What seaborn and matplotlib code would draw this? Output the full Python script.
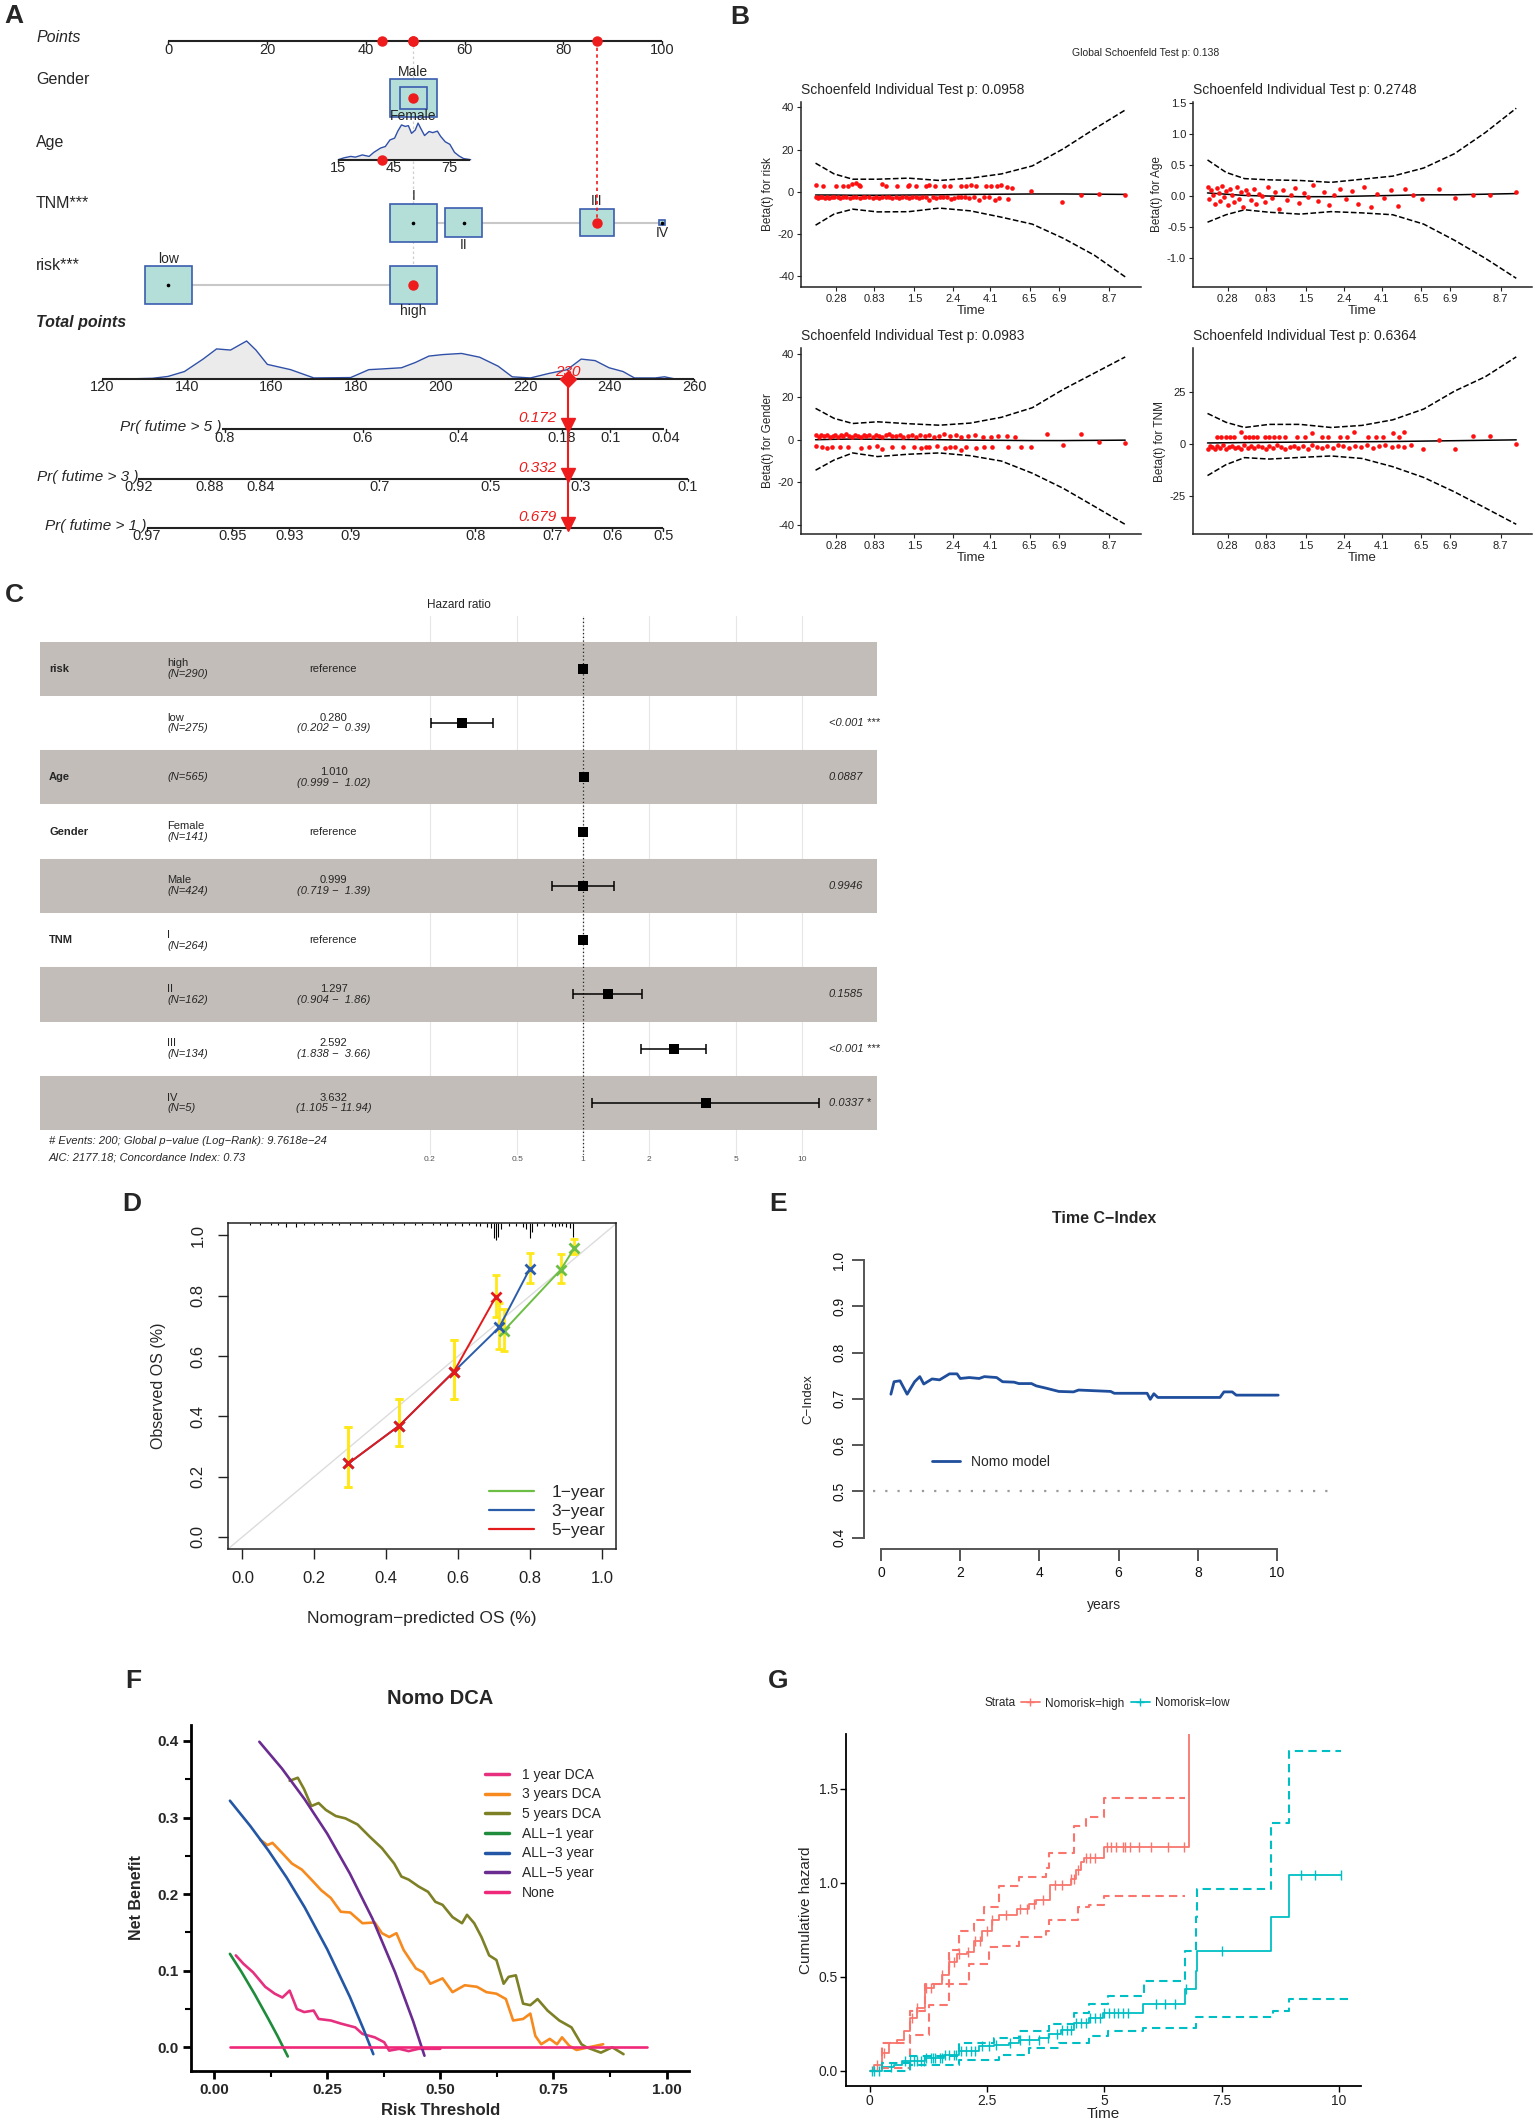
import numpy as np
import pandas as pd
import matplotlib
matplotlib.use("Agg")
import matplotlib.pyplot as plt
from matplotlib.patches import Rectangle
from matplotlib.lines import Line2D
import seaborn as sns

W, H = 1535, 2121

# ========== A. Nomogram data ==========
points_ticks = [0, 20, 40, 60, 80, 100]
gender_levels = ['Male', 'Female']
gender_n = [424, 141]
gender_pts = [49.6, 49.6]
tnm_levels = ['I', 'II', 'III', 'IV']
tnm_n = [264, 162, 134, 5]
tnm_pts = [49.6, 59.8, 86.8, 100.0]
risk_levels = ['low', 'high']
risk_n = [275, 290]
risk_pts = [0.0, 49.6]
sel_gender, sel_tnm, sel_risk = 'Male', 'III', 'high'
age_ticks = [15, 45, 75]
age_range = [15, 86]
age_pts_range = [34.4, 57.0]      # points for age 15 and age 75
age_sel = 38.5
age_dens_x = [15, 18, 21.7, 24.2, 27.9, 31.6, 34.1, 37.8, 40.3, 42.8,
              45.3, 47, 49, 51, 52.7, 54.4, 56.4, 57.9, 59.4, 61.4,
              63.8, 65.8, 68.3, 70, 72.5, 75, 77.5, 80, 82.4, 86.2]
age_dens_y = [0, 0.05, 0.09, 0.07, 0.13, 0.09, 0.2, 0.32, 0.36, 0.54,
              0.59, 0.78, 0.95, 0.91, 0.93, 0.72, 0.81, 1.0, 0.85, 0.66,
              0.77, 0.74, 0.78, 0.64, 0.49, 0.42, 0.2, 0.1, 0.03, 0]
total_ticks = [120, 140, 160, 180, 200, 220, 240, 260]
total_dens_x = [128, 131.8, 135.5, 139.4, 143.8, 147, 150.3, 154.1, 156.3, 159,
                164.5, 170, 178.7, 183, 186.3, 190.7, 194, 197.2, 200.5, 204.9,
                209.2, 213.6, 216.9, 221.2, 225.6, 229.9, 233.2, 236.5, 239.8, 243.1,
                245.8, 250.7, 252.9, 255.1]
total_dens_y = [0, 0.01, 0.06, 0.19, 0.52, 0.79, 0.76, 1.0, 0.76, 0.38,
                0.24, 0.02, 0.03, 0.24, 0.26, 0.29, 0.43, 0.6, 0.64, 0.67,
                0.57, 0.33, 0.05, 0.02, 0.14, 0.24, 0.52, 0.48, 0.29, 0.19,
                0.02, 0.02, 0.05, 0]
total_score = 230
pr_labels = ['Pr( futime > 5 )', 'Pr( futime > 3 )', 'Pr( futime > 1 )']
pr_ticks = [[0.8, 0.6, 0.4, 0.18, 0.1, 0.04],
            [0.92, 0.88, 0.84, 0.7, 0.5, 0.3, 0.1],
            [0.97, 0.95, 0.93, 0.9, 0.8, 0.7, 0.6, 0.5]]
pr_tick_tp = [[148.9, 181.5, 204.1, 228.7, 240.1, 253.2],
              [128.5, 145.4, 157.5, 185.5, 211.7, 233.1, 258.4],
              [130.5, 150.7, 164.2, 178.7, 208.2, 226.4, 240.6, 252.6]]
pr_range_tp = [[148.2, 252.9], [128.5, 258.4], [130.5, 252.6]]
pr_pred = [0.172, 0.332, 0.679]

# ========== B. Schoenfeld residuals ==========
b_xticks = [0.066, 0.189, 0.319, 0.443, 0.564, 0.691, 0.785, 0.949]
b_xticklabels = ['0.28', '0.83', '1.5', '2.4', '4.1', '6.5', '6.9', '8.7']
b_grid = [0, 0.06, 0.12, 0.2, 0.3, 0.4, 0.5, 0.6, 0.7, 0.8, 0.9, 1.0]

risk_u = [0.003, 0.025, 0.066, 0.088, 0.105, 0.118, 0.130, 0.139, 0.144, 0.215,
          0.228, 0.262, 0.299, 0.302, 0.324, 0.358, 0.367, 0.387, 0.414, 0.434,
          0.471, 0.485, 0.502, 0.519, 0.552, 0.566, 0.586, 0.600, 0.617, 0.633,
          0.696,
          0.000, 0.008, 0.014, 0.021, 0.030, 0.037, 0.045, 0.052, 0.060, 0.071,
          0.079, 0.090, 0.098, 0.110, 0.121, 0.130, 0.142, 0.153, 0.161, 0.172,
          0.185, 0.196, 0.205, 0.214, 0.226, 0.238, 0.247, 0.259, 0.268, 0.279,
          0.291, 0.303, 0.312, 0.323, 0.335, 0.344, 0.356, 0.367, 0.378, 0.390,
          0.401, 0.413, 0.424, 0.436, 0.448, 0.459, 0.470, 0.483, 0.497, 0.512,
          0.529, 0.545, 0.560, 0.578, 0.593, 0.622,
          0.797, 0.856, 0.916, 1.000]
risk_y = [3.2, 2.8, 2.6, 3.0, 2.9, 3.6, 4.1, 3.3, 2.7, 3.5,
          2.8, 2.9, 3.0, 3.4, 2.6, 2.9, 3.1, 2.7, 2.9, 3.0,
          2.6, 2.8, 3.1, 2.7, 3.0, 2.9, 2.6, 3.1, 2.4, 2.0,
          0.5,
          -2.4, -2.8, -2.5, -2.2, -2.7, -2.4, -2.9, -2.5, -2.3, -2.6,
          -2.8, -2.4, -2.5, -2.7, -2.3, -2.6, -2.9, -2.4, -2.5, -2.2,
          -2.7, -2.5, -2.8, -2.4, -2.6, -2.3, -2.7, -2.5, -2.9, -2.4,
          -2.6, -2.8, -2.3, -2.5, -2.7, -2.4, -2.6, -3.7, -2.5, -2.8,
          -2.3, -2.6, -2.4, -3.6, -2.7, -2.5, -2.3, -2.6, -2.8, -2.4,
          -3.7, -2.6, -2.5, -3.8, -2.7, -3.6,
          -4.6, -1.4, -0.9, -1.4]
risk_up = [13.6, 8.5, 6.0, 6.0, 6.5, 5.4, 6.5, 8.5, 12.3, 20.4, 29.8, 38.8]
risk_lo = [-15.8, -10.5, -8.2, -9.5, -9.4, -7.7, -9.0, -12, -15.3, -22, -30, -40.3]
risk_mid = [-1.5, -1.5, -1.6, -1.6, -1.5, -1.4, -1.2, -1.1, -1.0, -1.0, -1.1, -1.2]

age_u = [0.000, 0.006, 0.012, 0.018, 0.024, 0.030, 0.036, 0.042, 0.048, 0.055,
         0.061, 0.067, 0.074, 0.080, 0.087, 0.094, 0.101, 0.108, 0.116, 0.124,
         0.132, 0.140, 0.149, 0.158, 0.167, 0.177, 0.187, 0.197, 0.208, 0.219,
         0.231, 0.243, 0.256, 0.269, 0.283, 0.297, 0.312, 0.327, 0.343, 0.359,
         0.376, 0.393, 0.411, 0.429, 0.448, 0.467, 0.487, 0.507, 0.528, 0.549,
         0.571, 0.593, 0.616, 0.640, 0.664, 0.694, 0.749, 0.800, 0.859, 0.914,
         1.000]
age_y = [0.15, -0.05, 0.10, 0.02, -0.12, 0.13, 0.05, -0.08, 0.16, -0.02,
         0.08, -0.15, 0.11, 0.01, -0.10, 0.14, -0.04, 0.06, -0.18, 0.09,
         0.03, -0.07, 0.12, -0.13, 0.04, 0.00, -0.09, 0.15, -0.03, 0.07,
         -0.20, 0.10, -0.06, 0.02, 0.13, -0.11, 0.05, -0.02, 0.17, -0.08,
         0.06, -0.14, 0.01, 0.11, -0.05, 0.08, -0.12, 0.14, -0.18, 0.04,
         -0.03, 0.09, -0.16, 0.12, 0.02, -0.05, 0.12, -0.03, 0.01, 0.02,
         0.07]
age_up = [0.58, 0.38, 0.28, 0.26, 0.25, 0.22, 0.27, 0.32, 0.45, 0.68, 1.02, 1.41]
age_lo = [-0.42, -0.30, -0.22, -0.26, -0.29, -0.25, -0.27, -0.30, -0.45, -0.71, -1.0, -1.32]
age_mid = [0.05, 0.03, 0.01, 0.0, -0.01, -0.01, 0.0, 0.01, 0.02, 0.02, 0.03, 0.04]

gen_u = [0.000, 0.010, 0.019, 0.027, 0.036, 0.046, 0.055, 0.063, 0.072, 0.081,
         0.090, 0.099, 0.108, 0.118, 0.127, 0.136, 0.146, 0.155, 0.164, 0.174,
         0.184, 0.194, 0.205, 0.215, 0.226, 0.237, 0.248, 0.260, 0.272, 0.284,
         0.297, 0.310, 0.324, 0.338, 0.352, 0.367, 0.383, 0.399, 0.416, 0.433,
         0.452, 0.471, 0.492, 0.515, 0.540, 0.566, 0.590, 0.618, 0.645,
         0.000, 0.020, 0.037, 0.054, 0.079, 0.105, 0.147, 0.172, 0.198, 0.215,
         0.248, 0.282, 0.319, 0.341, 0.358, 0.367, 0.392, 0.417, 0.434, 0.451,
         0.471, 0.485, 0.519, 0.544, 0.569, 0.620, 0.662, 0.696,
         0.747, 0.800, 0.856, 0.916, 1.000]
gen_y = [2.2, 1.4, 2.0, 1.7, 2.4, 1.5, 1.9, 2.3, 1.3, 2.1,
         1.6, 2.5, 1.8, 1.4, 2.2, 1.9, 1.5, 2.4, 1.7, 2.0,
         1.3, 2.3, 1.8, 1.5, 2.1, 2.6, 1.6, 1.9, 2.2, 1.4,
         1.8, 2.4, 1.5, 2.0, 1.7, 2.2, 1.3, 1.9, 2.5, 1.6,
         2.0, 1.4, 1.8, 2.3, 1.5, 1.1, 1.9, 1.6, 1.4,
         -3.0, -3.5, -3.9, -3.3, -3.6, -3.2, -3.8, -3.4, -3.1, -4.4,
         -3.6, -3.5, -3.2, -3.9, -3.6, -3.3, -3.0, -3.8, -3.5, -3.4,
         -4.6, -3.2, -3.7, -3.5, -3.3, -3.4, -3.6, -3.5,
         2.5, -2.5, 2.9, -1.3, -1.7]
gen_up = [14.7, 10, 7.6, 8.4, 7.5, 6.8, 7.8, 10.5, 15, 23.6, 31.2, 38.8]
gen_lo = [-14.3, -9.5, -6.2, -7.9, -6.8, -6.2, -7.5, -10, -15.7, -22.8, -31.2, -39.7]
gen_mid = [0, 0.2, 0.3, 0.2, 0.1, 0, -0.2, -0.3, -0.4, -0.4, -0.3, -0.2]

tnm_u = [0.030, 0.045, 0.060, 0.072, 0.085, 0.110, 0.123, 0.135, 0.148, 0.160,
         0.185, 0.200, 0.215, 0.232, 0.250, 0.290, 0.315, 0.338, 0.370, 0.390,
         0.430, 0.452, 0.475, 0.520, 0.545, 0.570, 0.600, 0.620, 0.635,
         0.000, 0.008, 0.016, 0.024, 0.032, 0.041, 0.050, 0.059, 0.068, 0.078,
         0.088, 0.098, 0.108, 0.119, 0.130, 0.141, 0.152, 0.164, 0.176, 0.188,
         0.200, 0.213, 0.226, 0.239, 0.252, 0.266, 0.280, 0.294, 0.309, 0.324,
         0.339, 0.355, 0.371, 0.388, 0.405, 0.422, 0.440, 0.458, 0.477, 0.496,
         0.515, 0.535, 0.555, 0.575, 0.596, 0.617, 0.638, 0.660,
         0.697, 0.749, 0.800, 0.859, 0.914, 1.000]
tnm_y = [3.3, 3.4, 3.2, 3.5, 3.3, 5.8, 3.4, 3.2, 3.5, 3.3,
         3.4, 3.2, 3.6, 3.3, 3.4, 3.5, 3.2, 5.5, 3.4, 3.3,
         3.5, 3.2, 5.9, 3.4, 3.3, 3.6, 5.4, 3.3, 5.6,
         -2.2, -0.8, -1.6, -2.6, -1.1, -1.9, -0.6, -2.3, -1.4, -0.9,
         -2.0, -1.3, -2.5, -0.7, -1.7, -1.2, -2.1, -0.9, -1.5, -2.4,
         -1.0, -1.8, -0.6, -1.3, -2.2, -1.6, -0.8, -1.9, -1.1, -2.3,
         -0.7, -1.4, -2.0, -1.0, -1.7, -0.5, -1.2, -2.1, -0.9, -1.5,
         -0.6, -1.8, -1.1, -0.4, -1.3, -0.8, -1.6, -0.3,
         -2.6, 2.1, -2.3, 3.8, 3.8, -0.2]
tnm_up = [14.8, 10.5, 8, 9.5, 9.5, 8, 9, 11.7, 16.9, 25.6, 32.6, 42.2]
tnm_lo = [-15.3, -10, -6.6, -7.3, -6.5, -5.8, -7, -11, -16.2, -23.2, -31, -38.9]
tnm_mid = [0.5, 0.6, 0.7, 0.8, 0.9, 1.0, 1.1, 1.2, 1.4, 1.6, 1.8, 2.0]

# ========== C. Forest plot ==========
c_vars = ['risk', '', 'Age', 'Gender', '', 'TNM', '', '', '']
c_levels = ['high', 'low', '', 'Female', 'Male', 'I', 'II', 'III', 'IV']
c_n = [290, 275, 565, 141, 424, 264, 162, 134, 5]
c_hr = [1, 0.280, 1.010, 1, 0.999, 1, 1.297, 2.592, 3.632]
c_lo = [np.nan, 0.202, 0.999, np.nan, 0.719, np.nan, 0.904, 1.838, 1.105]
c_hi = [np.nan, 0.39, 1.02, np.nan, 1.39, np.nan, 1.86, 3.66, 11.94]
c_ci_text = ['', '(0.202 \u2212  0.39)', '(0.999 \u2212  1.02)', '', '(0.719 \u2212  1.39)', '',
             '(0.904 \u2212  1.86)', '(1.838 \u2212  3.66)', '(1.105 \u2212 11.94)']
c_p = ['', '<0.001 ***', '0.0887', '', '0.9946', '', '0.1585', '<0.001 ***', '0.0337 *']
c_grid = [0.2, 0.5, 1, 2, 5, 10]

# ========== D. Calibration ==========
cal1_x = [0.727, 0.885, 0.923]
cal1_y = [0.684, 0.886, 0.958]
cal1_lo = [0.616, 0.843, 0.937]
cal1_hi = [0.756, 0.937, 0.989]
cal3_x = [0.295, 0.436, 0.588, 0.714, 0.799]
cal3_y = [0.244, 0.369, 0.548, 0.695, 0.889]
cal3_lo = [0.166, 0.300, 0.457, 0.623, 0.842]
cal3_hi = [0.365, 0.457, 0.653, 0.775, 0.942]
cal5_x = [0.295, 0.436, 0.588, 0.705]
cal5_y = [0.244, 0.369, 0.548, 0.797]
cal5_lo = [0.166, 0.300, 0.457, 0.729]
cal5_hi = [0.365, 0.457, 0.653, 0.870]
rug_x = [0.02, 0.05, 0.08, 0.10, 0.12, 0.15, 0.17, 0.20, 0.22, 0.25, 0.27, 0.30,
         0.33, 0.36, 0.39, 0.42, 0.45, 0.48, 0.50, 0.53, 0.55, 0.57, 0.59, 0.61,
         0.63, 0.65, 0.66, 0.68, 0.69, 0.70, 0.705, 0.71, 0.72, 0.74, 0.76, 0.78,
         0.79, 0.80, 0.805, 0.82, 0.84, 0.86, 0.87, 0.88, 0.89, 0.90, 0.91, 0.92]
rug_h = [0.004, 0.004, 0.004, 0.006, 0.012, 0.012, 0.004, 0.006, 0.004, 0.004, 0.004, 0.004,
         0.004, 0.004, 0.004, 0.004, 0.004, 0.006, 0.004, 0.006, 0.004, 0.008, 0.006, 0.008,
         0.006, 0.008, 0.01, 0.012, 0.015, 0.05, 0.055, 0.045, 0.02, 0.01, 0.008, 0.012,
         0.02, 0.05, 0.03, 0.008, 0.01, 0.01, 0.012, 0.01, 0.01, 0.012, 0.015, 0.045]

# ========== E. Time C-index ==========
cidx_t = [0.25, 0.33, 0.48, 0.66, 0.85, 0.98, 1.08, 1.29, 1.48, 1.73,
          1.92, 2.0, 2.23, 2.48, 2.61, 2.92, 3.07, 3.36, 3.48, 3.8,
          3.92, 4.17, 4.49, 4.86, 4.99, 5.8, 5.89, 6.72, 6.8, 6.89,
          6.99, 8.56, 8.66, 8.87, 8.97, 10.03]
cidx_v = [0.710, 0.737, 0.739, 0.710, 0.737, 0.748, 0.732, 0.743, 0.741, 0.754,
          0.754, 0.744, 0.746, 0.744, 0.748, 0.746, 0.737, 0.736, 0.733, 0.733,
          0.728, 0.723, 0.716, 0.715, 0.719, 0.716, 0.712, 0.712, 0.699, 0.711,
          0.703, 0.703, 0.715, 0.715, 0.708, 0.708]

# ========== F. DCA ==========
dca1_x = [0.048, 0.065, 0.086, 0.113, 0.134, 0.151, 0.167, 0.183, 0.199, 0.22, 0.231,
          0.258, 0.28, 0.312, 0.328, 0.355, 0.376, 0.387, 0.409, 0.43, 0.452, 0.5]
dca1_y = [0.120, 0.109, 0.098, 0.079, 0.070, 0.065, 0.074, 0.050, 0.046, 0.048, 0.037,
          0.035, 0.031, 0.026, 0.0175, 0.013, 0.0066, -0.0044, -0.002, -0.005, -0.002, -0.002]
dca3_x = [0.102, 0.118, 0.129, 0.15, 0.172, 0.194, 0.215, 0.237, 0.258, 0.28,
          0.301, 0.328, 0.355, 0.371, 0.387, 0.403, 0.419, 0.446, 0.462, 0.478,
          0.505, 0.527, 0.554, 0.581, 0.602, 0.624, 0.645, 0.661, 0.683, 0.699,
          0.71, 0.723, 0.742, 0.758, 0.769, 0.785, 0.801, 0.828, 0.86]
dca3_y = [0.271, 0.264, 0.267, 0.254, 0.240, 0.232, 0.219, 0.205, 0.195, 0.177,
          0.176, 0.162, 0.163, 0.149, 0.144, 0.149, 0.127, 0.103, 0.098, 0.083,
          0.090, 0.072, 0.081, 0.079, 0.072, 0.070, 0.063, 0.035, 0.037, 0.044,
          0.015, 0.004, 0.011, 0.004, 0.013, 0.002, -0.0035, 0.0, 0.004]
dca5_x = [0.167, 0.185, 0.199, 0.215, 0.231, 0.247, 0.269, 0.29, 0.317, 0.344,
          0.371, 0.398, 0.414, 0.43, 0.452, 0.473, 0.489, 0.505, 0.527, 0.548,
          0.559, 0.575, 0.591, 0.608, 0.624, 0.64, 0.651, 0.667, 0.683, 0.699,
          0.715, 0.737, 0.763, 0.79, 0.812, 0.823, 0.855, 0.88, 0.905]
dca5_y = [0.348, 0.352, 0.337, 0.315, 0.319, 0.310, 0.302, 0.299, 0.291, 0.275,
          0.260, 0.240, 0.223, 0.219, 0.210, 0.203, 0.190, 0.186, 0.170, 0.162,
          0.173, 0.162, 0.144, 0.120, 0.114, 0.083, 0.092, 0.094, 0.057, 0.055,
          0.063, 0.048, 0.035, 0.026, 0.004, 0.0, -0.007, 0.0, -0.009]
all1_x = [0.035, 0.06, 0.09, 0.12, 0.14, 0.163]
all1_y = [0.122, 0.099, 0.069, 0.037, 0.015, -0.012]
all3_x = [0.035, 0.08, 0.12, 0.16, 0.2, 0.25, 0.3, 0.33, 0.352]
all3_y = [0.322, 0.289, 0.257, 0.222, 0.183, 0.128, 0.066, 0.024, -0.009]
all5_x = [0.1, 0.15, 0.2, 0.25, 0.3, 0.35, 0.4, 0.44, 0.465]
all5_y = [0.399, 0.364, 0.324, 0.279, 0.227, 0.168, 0.098, 0.034, -0.011]
none_x = [0.035, 0.957]
none_y = [0.0, 0.0]
dca_names = ['1 year DCA', '3 years DCA', '5 years DCA',
             'ALL\u22121 year', 'ALL\u22123 year', 'ALL\u22125 year', 'None']
dca_colors = ['#E6307F', '#F68A1E', '#7E8026', '#1E8C3A', '#2357A6', '#6B2C91', '#F0287A']

# ========== G. Cumulative hazard ==========
high_t = [0, 0.1, 0.27, 0.42, 0.58, 0.74, 0.85, 1.0, 1.17, 1.38, 1.54, 1.70, 1.86, 2.07,
          2.23, 2.39, 2.6, 2.76, 3.13, 3.39, 3.55, 3.84, 4.29, 4.4, 4.51, 4.56, 5.0, 6.8]
high_h = [0, 0.03, 0.095, 0.15, 0.166, 0.21, 0.28, 0.335, 0.44, 0.46, 0.51, 0.576, 0.62, 0.63,
          0.69, 0.745, 0.80, 0.826, 0.86, 0.888, 0.906, 0.986, 1.02, 1.066, 1.11, 1.13, 1.19, 2.5]
high_up_t = [0, 0.27, 0.85, 1.17, 1.7, 1.9, 2.23, 2.44, 2.76, 3.18, 3.76, 3.82, 4.35, 4.61, 5.0, 6.73]
high_up_h = [0, 0.15, 0.32, 0.46, 0.64, 0.745, 0.8, 0.87, 0.98, 1.03, 1.08, 1.16, 1.3, 1.35, 1.45, 1.45]
high_lo_t = [0, 0.27, 0.85, 1.27, 1.7, 2.12, 2.55, 2.76, 3.18, 3.76, 3.82, 4.45, 4.67, 5.0, 6.73]
high_lo_h = [0, 0.014, 0.19, 0.35, 0.46, 0.57, 0.656, 0.665, 0.71, 0.745, 0.8, 0.87, 0.88, 0.93, 0.93]
low_t = [0, 0.27, 0.53, 0.69, 1.17, 1.59, 1.91, 2.33, 2.65, 2.97, 3.18, 3.61, 3.82, 4.08,
         4.35, 4.67, 4.98, 5.83, 6.73, 6.95, 6.98, 8.56, 8.93, 10.05]
low_h = [0, 0.018, 0.032, 0.054, 0.068, 0.086, 0.103, 0.13, 0.139, 0.148, 0.166, 0.175, 0.193, 0.219,
         0.255, 0.282, 0.309, 0.353, 0.433, 0.53, 0.638, 0.817, 1.04, 1.04]
low_up_t = [0, 0.27, 0.85, 1.91, 2.65, 3.18, 3.82, 4.35, 4.67, 5.09, 5.85, 6.73, 6.95, 6.98, 8.56, 8.93, 10.05]
low_up_h = [0, 0.04, 0.077, 0.148, 0.175, 0.21, 0.246, 0.309, 0.353, 0.398, 0.478, 0.638, 0.817, 0.968, 1.316, 1.70, 1.70]
low_lo_t = [0, 0.85, 1.91, 2.76, 3.39, 4.03, 4.67, 5.09, 5.83, 6.79, 6.95, 8.59, 8.93, 10.2]
low_lo_h = [0, 0.029, 0.059, 0.086, 0.121, 0.148, 0.184, 0.21, 0.228, 0.228, 0.287, 0.317, 0.38, 0.38]
high_cens = [0.15, 0.3, 0.9, 1.0, 1.2, 1.3, 1.55, 1.7, 1.8, 1.9, 2.1, 2.25, 2.35, 2.5, 2.6, 2.9,
             3.2, 3.35, 3.5, 3.7, 3.95, 4.1, 4.3, 4.35, 4.45, 4.6, 4.7, 4.8, 5.05, 5.15, 5.25,
             5.4, 5.45, 5.55, 5.75, 6.0, 6.35, 6.7]
low_cens = [0.05, 0.1, 0.2, 0.45, 0.75, 0.85, 0.95, 1.0, 1.1, 1.15, 1.2, 1.3, 1.35, 1.4, 1.5,
            1.55, 1.6, 1.7, 1.8, 1.85, 1.95, 2.05, 2.15, 2.25, 2.4, 2.55, 2.7, 3.0, 3.2, 3.4,
            3.6, 3.8, 4.0, 4.1, 4.2, 4.3, 4.4, 4.5, 4.6, 4.7, 4.8, 4.9, 5.0, 5.1, 5.2, 5.3,
            5.4, 5.5, 6.1, 6.3, 6.5, 6.75, 7.5, 9.2, 9.5, 10.05]

# ========== Setup ==========
sns.set_theme(style="ticks")
plt.rcParams['font.family'] = ['Liberation Sans', 'DejaVu Sans']
plt.rcParams['axes.unicode_minus'] = False

fig = plt.figure(figsize=(W / 100, H / 100), dpi=100)
fig.patch.set_facecolor('white')


def add_ax(l, t, r, b):
    return fig.add_axes([l / W, 1 - b / H, (r - l) / W, (b - t) / H])


def fig_text(x, y, s, **kw):
    fig.text(x / W, 1 - y / H, s, **kw)


for lab, (lx, ly) in zip('ABCDEFG', [(14, 16), (740, 17), (14, 595), (131.5, 1204),
                                     (778, 1204), (133, 1681), (778, 1681)]):
    fig_text(lx, ly, lab, fontsize=19, fontweight='bold', ha='center', va='center')

# ========== A ==========
RED = '#EE1C1C'
BOX_FC, BOX_EC = '#B4DFD9', '#3A5DAE'
DENS_FC, DENS_EC = '#EBEBEB', '#3050A8'
X0, PX_PT = 168.4, 4.938
TP_X0, TP_PX = 102.4, (694.5 - 102.4) / 140
BOX_PX = 47.5
Y_POINTS, Y_GENDER, Y_AGE, Y_TNM, Y_RISK, Y_TOTAL = 41.3, 98, 159.7, 222.5, 285, 378.7
Y_PR = [429, 478.5, 528]
AGE_H, TOT_H = 36.6, 37.7


def tp2pt(tp):
    return (TP_X0 + (np.asarray(tp, dtype=float) - total_ticks[0]) * TP_PX - X0) / PX_PT


def age2pt(a):
    a = np.asarray(a, dtype=float)
    return age_pts_range[0] + (a - age_ticks[0]) * (age_pts_range[1] - age_pts_range[0]) / (age_ticks[-1] - age_ticks[0])


axA = add_ax(0, 0, 760, 560)
axA.set_xlim(-X0 / PX_PT, (760 - X0) / PX_PT)
axA.set_ylim(560, 0)
axA.axis('off')


def nomo_axis(y, pos, labels, lo, hi, fs=10.5):
    axA.plot([lo, hi], [y, y], color='#222222', lw=1.5, solid_capstyle='butt', zorder=2)
    for p, s in zip(pos, labels):
        axA.plot([p, p], [y, y + 2.5], color='#222222', lw=1, zorder=2)
        axA.text(p, y + 1.5, s, ha='center', va='top', fontsize=fs)


def nomo_boxes(levels, ns, pts, yc, sel):
    nmax = max(ns)
    if max(pts) > min(pts):
        axA.plot([min(pts), max(pts)], [yc, yc], color='#C8C8C8', lw=1.5, zorder=1)
    for k in np.argsort(ns)[::-1]:
        side = BOX_PX * np.sqrt(ns[k] / nmax)
        w, h = side / PX_PT, side * 0.8
        axA.add_patch(Rectangle((pts[k] - w / 2, yc - h / 2), w, h, facecolor=BOX_FC,
                                edgecolor=BOX_EC, lw=1.2, zorder=3))
        axA.plot(pts[k], yc, 'o', color='black', ms=1.6, zorder=4)
    for k, (lev, p) in enumerate(zip(levels, pts)):
        h = BOX_PX * np.sqrt(ns[k] / nmax) * 0.8
        if k % 2 == 0:
            axA.text(p, yc - h / 2 - 0.5, lev, ha='center', va='bottom', fontsize=10)
        else:
            axA.text(p, yc + h / 2 + 0.5, lev, ha='center', va='top', fontsize=10)
        if lev == sel:
            axA.plot(p, yc, 'o', color=RED, ms=6.5, zorder=5)


lab_x = (36 - X0) / PX_PT
axA.text(lab_x, 37, 'Points', style='italic', fontsize=11.5, va='center')
axA.text(lab_x, 79, 'Gender', fontsize=11.5, va='center')
axA.text(lab_x, 142, 'Age', fontsize=11.5, va='center')
axA.text(lab_x, 203, 'TNM***', fontsize=11.5, va='center')
axA.text(lab_x, 266, 'risk***', fontsize=11.5, va='center')
axA.text(lab_x, 322, 'Total points', style='italic', fontweight='bold', fontsize=11.5, va='center')

nomo_axis(Y_POINTS, points_ticks, [str(v) for v in points_ticks], points_ticks[0], points_ticks[-1])

sel_g = gender_pts[gender_levels.index(sel_gender)]
sel_t = tnm_pts[tnm_levels.index(sel_tnm)]
sel_r = risk_pts[risk_levels.index(sel_risk)]
axA.plot([sel_g, sel_g], [Y_POINTS, Y_RISK], color='#CFCFCF', lw=0.9, ls=(0, (2, 2)), zorder=0)
axA.plot([sel_t, sel_t], [Y_POINTS, Y_TNM], color=RED, lw=1.2, ls=(0, (2, 2)), zorder=4)

nomo_boxes(gender_levels, gender_n, gender_pts, Y_GENDER, sel_gender)

axA.fill_between(age2pt(age_dens_x), Y_AGE, Y_AGE - np.array(age_dens_y) * AGE_H,
                 color=DENS_FC, lw=0, zorder=1)
axA.plot(age2pt(age_dens_x), Y_AGE - np.array(age_dens_y) * AGE_H, color=DENS_EC, lw=1, zorder=2)
nomo_axis(Y_AGE, age2pt(age_ticks), [str(v) for v in age_ticks], age2pt(age_range[0]), age2pt(age_range[1]))
axA.plot(age2pt(age_sel), Y_AGE, 'o', color=RED, ms=6.5, zorder=5)

nomo_boxes(tnm_levels, tnm_n, tnm_pts, Y_TNM, sel_tnm)
nomo_boxes(risk_levels, risk_n, risk_pts, Y_RISK, sel_risk)

for p in [age2pt(age_sel), sel_g, sel_t, sel_r]:
    axA.plot(p, Y_POINTS, 'o', color=RED, ms=6.5, zorder=5)

axA.fill_between(tp2pt(total_dens_x), Y_TOTAL, Y_TOTAL - np.array(total_dens_y) * TOT_H,
                 color=DENS_FC, lw=0, zorder=1)
axA.plot(tp2pt(total_dens_x), Y_TOTAL - np.array(total_dens_y) * TOT_H, color=DENS_EC, lw=1, zorder=2)
nomo_axis(Y_TOTAL, tp2pt(total_ticks), [str(v) for v in total_ticks],
          tp2pt(total_ticks[0]), tp2pt(total_ticks[-1]))

for y, lab, ticks, tps, rng in zip(Y_PR, pr_labels, pr_ticks, pr_tick_tp, pr_range_tp):
    nomo_axis(y, tp2pt(tps), [str(v) for v in ticks], tp2pt(rng[0]), tp2pt(rng[1]))
    axA.text(tp2pt(rng[0]), y - 2, lab, style='italic', fontsize=11, ha='right', va='center')

xs = float(tp2pt(total_score))
axA.plot([xs, xs], [Y_TOTAL, Y_PR[-1] - 4], color=RED, lw=1.5, zorder=6)
axA.plot(xs, Y_TOTAL, 'D', color=RED, ms=8, zorder=7)
axA.text(xs, Y_TOTAL - 7, str(total_score), color=RED, style='italic', fontsize=11,
         ha='center', va='center', zorder=7)
for y, p in zip(Y_PR, pr_pred):
    axA.plot(xs, y - 4, 'v', color=RED, ms=10, zorder=7)
    axA.text(xs - 2.3, y - 11, f'{p:.3f}', color=RED, style='italic', fontsize=11,
             ha='right', va='center', zorder=7)

# ========== B ==========
fig_text(1146, 53, 'Global Schoenfeld Test p: 0.138', fontsize=7.5, ha='center', va='center')
b_panels = [
    ((801, 102, 1141, 287), risk_u, risk_y, risk_up, risk_lo, risk_mid, (-45.1, 42.6),
     [-40, -20, 0, 20, 40], ['-40', '-20', '0', '20', '40'], 'Beta(t) for risk',
     'Schoenfeld Individual Test p: 0.0958'),
    ((1193, 102, 1532, 287), age_u, age_y, age_up, age_lo, age_mid, (-1.46, 1.51),
     [-1.0, -0.5, 0, 0.5, 1.0, 1.5], ['-1.0', '-0.5', '0.0', '0.5', '1.0', '1.5'], 'Beta(t) for Age',
     'Schoenfeld Individual Test p: 0.2748'),
    ((801, 348, 1141, 534), gen_u, gen_y, gen_up, gen_lo, gen_mid, (-44.2, 43.0),
     [-40, -20, 0, 20, 40], ['-40', '-20', '0', '20', '40'], 'Beta(t) for Gender',
     'Schoenfeld Individual Test p: 0.0983'),
    ((1193, 348, 1532, 534), tnm_u, tnm_y, tnm_up, tnm_lo, tnm_mid, (-43.6, 46.5),
     [-25, 0, 25], ['-25', '0', '25'], 'Beta(t) for TNM',
     'Schoenfeld Individual Test p: 0.6364'),
]
for box, u, y, up, lo, mid, ylim, yt, ytl, ylab, title in b_panels:
    ax = add_ax(*box)
    sns.scatterplot(x=u, y=y, ax=ax, color='#FF1010', s=11, linewidth=0, zorder=3)
    sns.lineplot(x=b_grid, y=mid, ax=ax, color='black', lw=1.1, estimator=None, sort=False)
    sns.lineplot(x=b_grid, y=up, ax=ax, color='black', lw=1.1, ls='--', estimator=None, sort=False)
    sns.lineplot(x=b_grid, y=lo, ax=ax, color='black', lw=1.1, ls='--', estimator=None, sort=False)
    ax.set_xlim(-0.047, 1.051)
    ax.set_ylim(*ylim)
    ax.set_xticks(b_xticks)
    ax.set_xticklabels(b_xticklabels)
    ax.set_yticks(yt)
    ax.set_yticklabels(ytl)
    ax.tick_params(labelsize=8, length=3, width=0.8, pad=2, colors='#222222')
    for s in ['top', 'right']:
        ax.spines[s].set_visible(False)
    for s in ['left', 'bottom']:
        ax.spines[s].set_linewidth(1.1)
        ax.spines[s].set_color('#222222')
    ax.set_xlabel('Time', fontsize=9.5, labelpad=1)
    ax.set_ylabel(ylab, fontsize=8.5, labelpad=3)
    ax.set_title(title, loc='left', fontsize=10, pad=6)

# ========== C ==========
BAND = '#C2BDB8'
C_L, C_T, C_R, C_B = 40, 616, 877, 1155
C_ROW0, C_ROWH, C_X1, C_DEC = 668.65, 54.3, 583, 219
axC = add_ax(C_L, C_T, C_R, C_B)
axC.set_xscale('log')
axC.set_xlim(10 ** ((C_L - C_X1) / C_DEC), 10 ** ((C_R - C_X1) / C_DEC))
axC.set_ylim((C_B - C_ROW0) / C_ROWH, (C_T - C_ROW0) / C_ROWH)
for s in axC.spines.values():
    s.set_visible(False)
rows = np.arange(len(c_levels))
for i in rows:
    if i % 2 == 0:
        axC.axhspan(i - 0.5, i + 0.5, color=BAND, lw=0, zorder=1)
    else:
        axC.axhline(i + 0.5, color='#E3E3E3', lw=0.8, zorder=1)
for g in c_grid:
    axC.axvline(g, color='#E6E6E6', lw=0.8, zorder=0)
axC.axvline(1, color='#222222', lw=0.9, ls=(0, (1, 2)), zorder=2)
axC.set_xticks(c_grid)
axC.set_xticklabels([str(g) for g in c_grid])
axC.xaxis.set_minor_locator(matplotlib.ticker.NullLocator())
axC.set_yticks([])
axC.tick_params(axis='x', length=0, labelsize=6, colors='#555555', pad=1)

hr = np.array(c_hr)
lo = np.array(c_lo)
hi = np.array(c_hi)
has_ci = ~np.isnan(lo)
axC.errorbar(hr[has_ci], rows[has_ci], xerr=[hr[has_ci] - lo[has_ci], hi[has_ci] - hr[has_ci]],
             fmt='none', ecolor='black', elinewidth=1.1, capsize=3.5, capthick=1.1, zorder=4)
sns.scatterplot(x=hr, y=rows, ax=axC, marker='s', color='black', s=60, linewidth=0, zorder=5)

trC = axC.get_yaxis_transform()
fx = lambda px: (px - C_L) / (C_R - C_L)
for i in rows:
    if c_vars[i]:
        axC.text(fx(49), i, c_vars[i], transform=trC, fontsize=8, fontweight='bold', va='center')
    if c_levels[i]:
        axC.text(fx(167), i - 0.1, c_levels[i], transform=trC, fontsize=8, va='center')
        axC.text(fx(167), i + 0.1, f'(N={c_n[i]})', transform=trC, fontsize=8, style='italic', va='center')
    else:
        axC.text(fx(167), i, f'(N={c_n[i]})', transform=trC, fontsize=8, style='italic', va='center')
    if has_ci[i]:
        axC.text(fx(333.5), i - 0.1, f'{c_hr[i]:.3f}', transform=trC, fontsize=8, ha='center', va='center')
        axC.text(fx(333.5), i + 0.1, c_ci_text[i], transform=trC, fontsize=8, style='italic',
                 ha='center', va='center')
    else:
        axC.text(fx(333.5), i, 'reference', transform=trC, fontsize=8, ha='center', va='center')
    if c_p[i]:
        axC.text(fx(829), i, c_p[i], transform=trC, fontsize=8, style='italic', va='center')

fig_text(459, 605, 'Hazard ratio', fontsize=8.5, ha='center', va='center')
fig_text(49, 1141, '# Events: 200; Global p\u2212value (Log\u2212Rank): 9.7618e\u221224',
         fontsize=8, style='italic', va='center')
fig_text(49, 1158, 'AIC: 2177.18; Concordance Index: 0.73', fontsize=8, style='italic', va='center')

# ========== D ==========
axD = add_ax(228, 1223.4, 616.4, 1549)
axD.set_xlim(-0.04, 1.04)
axD.set_ylim(-0.04, 1.04)
axD.axline((0, 0), slope=1, color='#DCDCDC', lw=1, zorder=1)
axD.vlines(rug_x, 1.04 - np.array(rug_h), 1.04, color='black', lw=0.8, zorder=2)
cal_series = [(cal1_x, cal1_y, cal1_lo, cal1_hi, '#6DBE45'),
              (cal3_x, cal3_y, cal3_lo, cal3_hi, '#2A5CAA'),
              (cal5_x, cal5_y, cal5_lo, cal5_hi, '#E31A1C')]
for x, y, l, h, col in cal_series:
    y_ = np.array(y)
    axD.errorbar(x, y, yerr=[y_ - np.array(l), np.array(h) - y_], fmt='none', ecolor='#FFE81A',
                 elinewidth=2, capsize=3, capthick=2, zorder=3)
for x, y, l, h, col in cal_series:
    sns.lineplot(x=x, y=y, ax=axD, color=col, lw=1.4, marker='x', ms=7, mew=2, mec=col,
                 estimator=None, sort=False, zorder=4)
axD.legend(handles=[Line2D([], [], color=c[-1], lw=1.6) for c in cal_series],
           labels=['1\u2212year', '3\u2212year', '5\u2212year'], loc='lower right',
           frameon=False, fontsize=12.5, handlelength=2.6, handletextpad=1.0,
           labelspacing=0.2, borderaxespad=0.25)
d_ticks = [0.0, 0.2, 0.4, 0.6, 0.8, 1.0]
axD.set_xticks(d_ticks)
axD.set_xticklabels([f'{t:.1f}' for t in d_ticks])
axD.set_yticks(d_ticks)
axD.set_yticklabels([f'{t:.1f}' for t in d_ticks], rotation=90, va='center')
axD.tick_params(labelsize=12, length=7, width=1, colors='#222222', pad=9)
for s in axD.spines.values():
    s.set_visible(True)
    s.set_color('#222222')
    s.set_linewidth(1.1)
axD.set_xlabel('Nomogram\u2212predicted OS (%)', fontsize=12.5, labelpad=18)
axD.set_ylabel('Observed OS (%)', fontsize=11.5, labelpad=18)

# ========== E ==========
axE = add_ax(872.6, 1248.9, 1334.7, 1549)
axE.set_xlim(-0.212, 11.457)
axE.set_ylim(0.3755, 1.024)
sns.lineplot(x=cidx_t, y=cidx_v, ax=axE, color='#1F4E9C', lw=2, estimator=None, sort=False)
axE.axhline(0.5, color='#9A9A9A', lw=1.6, ls=(0, (1, 4.5)))
for s in ['top', 'right']:
    axE.spines[s].set_visible(False)
axE.spines['left'].set_position(('outward', 6.5))
axE.spines['left'].set_bounds(0.4, 1.0)
axE.spines['bottom'].set_bounds(0, 10)
for s in ['left', 'bottom']:
    axE.spines[s].set_color('#555555')
    axE.spines[s].set_linewidth(1.4)
e_yticks = [0.4, 0.5, 0.6, 0.7, 0.8, 0.9, 1.0]
axE.set_yticks(e_yticks)
axE.set_yticklabels([f'{t:.1f}' for t in e_yticks], rotation=90, va='center')
axE.set_xticks([0, 2, 4, 6, 8, 10])
axE.tick_params(labelsize=10, length=8.5, width=1.4, color='#555555', labelcolor='#111111', pad=4)
axE.set_title('Time C\u2212Index', fontweight='bold', fontsize=11.5, pad=19)
axE.set_xlabel('years', fontsize=10, labelpad=13)
axE.set_ylabel('C\u2212Index', fontsize=9.5, labelpad=13)
axE.legend(handles=[Line2D([], [], color='#1F4E9C', lw=2)], labels=['Nomo model'],
           loc='center left', bbox_to_anchor=(0.128, 0.291), frameon=False, fontsize=10,
           handlelength=2.0, borderpad=0, borderaxespad=0)

# ========== F ==========
axF = add_ax(191.2, 1724.6, 689.4, 2070.8)
dca_df = pd.concat([
    pd.DataFrame({'x': x, 'y': y, 'curve': n})
    for x, y, n in zip([dca1_x, dca3_x, dca5_x, all1_x, all3_x, all5_x, none_x],
                       [dca1_y, dca3_y, dca5_y, all1_y, all3_y, all5_y, none_y], dca_names)
], ignore_index=True)
sns.lineplot(data=dca_df, x='x', y='y', hue='curve', hue_order=dca_names,
             palette=dict(zip(dca_names, dca_colors)), ax=axF, lw=1.9,
             estimator=None, sort=False, legend=False)
axF.set_xlim(-0.0506, 1.0506)
axF.set_ylim(-0.0307, 0.4214)
for s in ['top', 'right']:
    axF.spines[s].set_visible(False)
for s in ['left', 'bottom']:
    axF.spines[s].set_linewidth(2)
    axF.spines[s].set_color('black')
f_xt = [0, 0.25, 0.5, 0.75, 1.0]
f_yt = [0, 0.1, 0.2, 0.3, 0.4]
axF.set_xticks(f_xt)
axF.set_xticklabels([f'{t:.2f}' for t in f_xt])
axF.set_yticks(f_yt)
axF.set_yticklabels([f'{t:.1f}' for t in f_yt])
axF.set_xticks([0.125, 0.375, 0.625, 0.875], minor=True)
axF.set_yticks([0.05, 0.15, 0.25, 0.35], minor=True)
axF.tick_params(which='major', length=6, width=2, color='black', pad=3)
axF.tick_params(which='minor', length=4, width=1.5, color='black')
for lab in axF.get_xticklabels() + axF.get_yticklabels():
    lab.set_fontweight('bold')
    lab.set_fontsize(11)
axF.set_title('Nomo DCA', fontweight='bold', fontsize=14.5, pad=15)
axF.set_xlabel('Risk Threshold', fontweight='bold', fontsize=12, labelpad=4)
axF.set_ylabel('Net Benefit', fontweight='bold', fontsize=11.5, labelpad=10)
axF.legend(handles=[Line2D([], [], color=c, lw=2.5) for c in dca_colors], labels=dca_names,
           loc='upper left', bbox_to_anchor=(0.5907, 0.8755), frameon=False, fontsize=10,
           handlelength=1.7, handletextpad=0.9, labelspacing=0.41, borderpad=0, borderaxespad=0)

# ========== G ==========
RED_G, TEAL_G = '#F8766D', '#00BFC4'
axG = add_ax(846, 1733.7, 1361, 2086)
for t, h, col in [(high_t, high_h, RED_G), (low_t, low_h, TEAL_G)]:
    sns.lineplot(x=t, y=h, ax=axG, color=col, lw=1.3, drawstyle='steps-post',
                 estimator=None, sort=False)
for t, h, col in [(high_up_t, high_up_h, RED_G), (high_lo_t, high_lo_h, RED_G),
                  (low_up_t, low_up_h, TEAL_G), (low_lo_t, low_lo_h, TEAL_G)]:
    sns.lineplot(x=t, y=h, ax=axG, color=col, lw=1.5, ls=(0, (4, 2.5)), drawstyle='steps-post',
                 estimator=None, sort=False)
for cens, t, h, col in [(high_cens, high_t, high_h, RED_G), (low_cens, low_t, low_h, TEAL_G)]:
    idx = np.searchsorted(t, cens, side='right') - 1
    axG.plot(cens, np.array(h)[idx], ls='none', marker='|', ms=7, mew=1, color=col)
axG.set_xlim(-0.503, 10.47)
axG.set_ylim(-0.081, 1.792)
for s in ['top', 'right']:
    axG.spines[s].set_visible(False)
for s in ['left', 'bottom']:
    axG.spines[s].set_linewidth(1.3)
    axG.spines[s].set_color('black')
axG.set_xticks([0, 2.5, 5, 7.5, 10])
axG.set_xticklabels(['0', '2.5', '5', '7.5', '10'])
axG.set_yticks([0, 0.5, 1.0, 1.5])
axG.set_yticklabels(['0.0', '0.5', '1.0', '1.5'])
axG.tick_params(labelsize=10, length=4, width=1, color='black', labelcolor='#222222', pad=2)
axG.set_xlabel('Time', fontsize=11, labelpad=-1)
axG.set_ylabel('Cumulative hazard', fontsize=11, labelpad=4)
fig_text(984.8, 1703.5, 'Strata', fontsize=8.5, va='center')
axG.legend(handles=[Line2D([], [], color=RED_G, lw=1.3, marker='+', ms=6),
                    Line2D([], [], color=TEAL_G, lw=1.3, marker='+', ms=6)],
           labels=['Nomorisk=high', 'Nomorisk=low'], ncol=2, loc='center left',
           bbox_to_anchor=((1021 - 846) / (1361 - 846), 1 + (1733.7 - 1703.5) / (2086 - 1733.7)),
           frameon=False, fontsize=8.5, handlelength=1.6, handletextpad=0.4, columnspacing=0.6,
           borderpad=0, borderaxespad=0)

fig.savefig('out.png', dpi=100, facecolor='white')
